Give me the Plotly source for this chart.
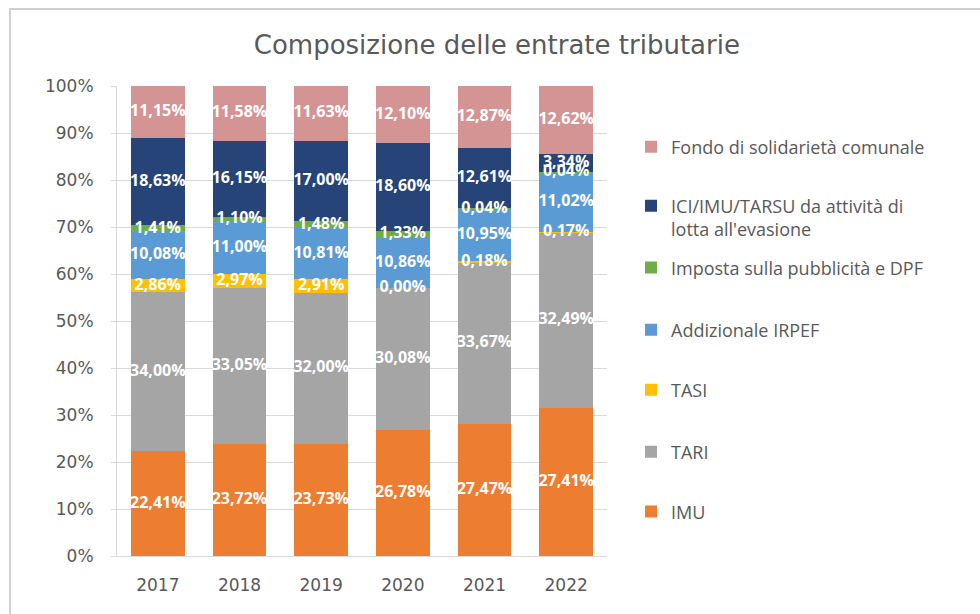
import plotly.graph_objects as go

# Anni di riferimento
years = ["2017", "2018", "2019", "2020", "2021", "2022"]

# Quote percentuali per voce di entrata (etichette dei segmenti)
imu = [22.41, 23.72, 23.73, 26.78, 27.47, 27.41]
tari = [34.00, 33.05, 32.00, 30.08, 33.67, 32.49]
tasi = [2.86, 2.97, 2.91, 0.00, 0.18, 0.17]
irpef = [10.08, 11.00, 10.81, 10.86, 10.95, 11.02]
pubblicita = [1.41, 1.10, 1.48, 1.33, 0.04, 0.04]
evasione = [18.63, 16.15, 17.00, 18.60, 12.61, 3.34]
fondo = [11.15, 11.58, 11.63, 12.10, 12.87, 12.62]

# Serie dal basso verso l'alto della pila
series = [
    ("IMU", imu, "#ED7D31"),
    ("TARI", tari, "#A5A5A5"),
    ("TASI", tasi, "#FFC000"),
    ("Addizionale IRPEF", irpef, "#5B9BD5"),
    ("Imposta sulla pubblicità e DPF", pubblicita, "#70AD47"),
    ("ICI/IMU/TARSU da attività di<br>lotta all'evasione", evasione, "#264478"),
    ("Fondo di solidarietà comunale", fondo, "#D49494"),
]

# Posizione verticale (in frazione di area) della voce di legenda di ciascuna serie
legend_y = [0.094, 0.221, 0.353, 0.481, 0.613, 0.720, 0.870]

FONT = "Open Sans"
GREY_TXT = "#595959"
GRID = "#D9D9D9"


def fmt(v):
    return f"{v:.2f}".replace(".", ",") + "%"


fig = go.Figure()

totals = [sum(s[1][i] for s in series) for i in range(len(years))]

for k, (name, vals, color) in enumerate(series):
    lg = "legend" if k == 0 else f"legend{k + 1}"
    fig.add_trace(go.Bar(
        x=years, y=vals, name=name,
        marker=dict(color=color, line=dict(width=0)),
        legend=lg,
        hoverinfo="skip",
    ))

# Etichette dei valori al centro di ciascun segmento (pila normalizzata al 100%)
lab_x, lab_y, lab_t = [], [], []
for i in range(len(years)):
    cum = 0.0
    for name, vals, color in series:
        v = vals[i]
        lab_x.append(years[i])
        lab_y.append(100.0 * (cum + v / 2.0) / totals[i])
        lab_t.append(fmt(v))
        cum += v

fig.add_trace(go.Scatter(
    x=lab_x, y=lab_y, text=lab_t, mode="text",
    textfont=dict(family=FONT, size=16, color="white", weight="bold"),
    textposition="middle center",
    showlegend=False, hoverinfo="skip", cliponaxis=False,
))

layout_legends = {}
for k, y in enumerate(legend_y):
    key = "legend" if k == 0 else f"legend{k + 1}"
    layout_legends[key] = dict(
        x=1.049, xanchor="left", y=y, yanchor="middle",
        bgcolor="rgba(0,0,0,0)", borderwidth=0,
        font=dict(family=FONT, size=18, color=GREY_TXT),
        valign="top", itemwidth=30,
        itemclick=False, itemdoubleclick=False,
    )

fig.update_layout(
    width=980, height=614,
    margin=dict(l=117, r=373, t=86, b=58),
    paper_bgcolor="white", plot_bgcolor="white",
    barmode="stack", barnorm="percent", bargap=0.34,
    title=dict(
        text="Composizione delle entrate tributarie",
        x=0.507, xref="container", xanchor="center",
        y=0.927, yref="container", yanchor="middle",
        font=dict(family="DejaVu Sans", size=26, color=GREY_TXT),
    ),
    xaxis=dict(
        type="category",
        showline=True, linecolor=GRID, linewidth=1,
        showgrid=False, ticks="",
        tickfont=dict(family="DejaVu Sans", size=17, color=GREY_TXT),
        ticklabelstandoff=14,
    ),
    yaxis=dict(
        range=[0, 100], dtick=10, ticksuffix="%",
        showgrid=True, gridcolor=GRID, gridwidth=1,
        showline=True, linecolor=GRID, linewidth=1,
        ticks="outside", ticklen=5, tickcolor=GRID,
        tickfont=dict(family="DejaVu Sans", size=17, color=GREY_TXT),
        ticklabelstandoff=14, zeroline=False,
    ),
    shapes=[dict(
        type="rect", xref="paper", yref="paper",
        x0=(10 - 117) / 490, x1=(990 - 117) / 490,
        y0=(556 - 630) / 470, y1=(556 - 9) / 470,
        line=dict(color="#D0D0D0", width=2), fillcolor="rgba(0,0,0,0)",
        layer="below",
    )],
    showlegend=True,
    **layout_legends,
)

fig.write_html("out.html")
